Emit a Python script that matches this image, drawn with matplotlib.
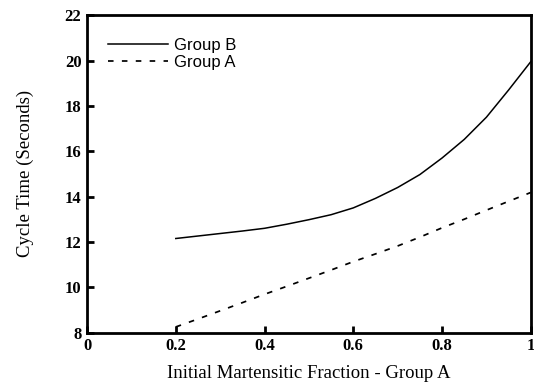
import matplotlib
matplotlib.use('Agg')
import matplotlib.pyplot as plt
import numpy as np
from matplotlib.ticker import FixedLocator, FixedFormatter

# values
frac = [0.2, 0.25, 0.3, 0.35, 0.4, 0.45, 0.5, 0.55, 0.6, 0.65, 0.7,
        0.75, 0.8, 0.85, 0.9, 0.95, 1.0]
group_b = [12.15, 12.26, 12.37, 12.48, 12.6, 12.78, 12.98, 13.2, 13.5, 13.92, 14.4,
           14.97, 15.7, 16.52, 17.5, 18.7, 19.95]
group_a = [8.25, 8.6, 8.96, 9.32, 9.69, 10.04, 10.4, 10.76, 11.13, 11.47, 11.82,
           12.21, 12.62, 13.0, 13.4, 13.79, 14.18]

x_ticks = [0, 0.2, 0.4, 0.6, 0.8, 1.0]
x_labels = ['0', '0.2', '0.4', '0.6', '0.8', '1']
y_ticks = [8, 10, 12, 14, 16, 18, 20, 22]

SERIF = 'Liberation Serif'
SANS = 'Liberation Sans'

fig = plt.figure(figsize=(5.34, 3.89), dpi=100, facecolor='white')
ax = fig.add_axes([0.163, 0.145, 0.831, 0.816])

ax.plot(frac, group_b, color='black', linewidth=1.1, label='Group B')
ax.plot(frac, group_a, color='black', linewidth=1.25, linestyle=(0, (3.2, 4.8)), label='Group A')

ax.set_xlim(0, 1)
ax.set_ylim(8, 22)
ax.xaxis.set_major_locator(FixedLocator(x_ticks))
ax.xaxis.set_major_formatter(FixedFormatter(x_labels))
ax.set_yticks(y_ticks)

for s in ax.spines.values():
    s.set_linewidth(2)
ax.tick_params(direction='in', length=5, width=2, labelsize=12, pad=4)
for lab in ax.get_xticklabels() + ax.get_yticklabels():
    lab.set_fontfamily(SERIF)
    lab.set_fontweight('bold')

ax.set_xlabel('Initial Martensitic Fraction - Group A', fontsize=13.5, family=SERIF, labelpad=8)
ax.set_ylabel('Cycle Time (Seconds)', fontsize=13.5, family=SERIF, labelpad=22)

ax.legend(loc='upper left', frameon=False, prop={'family': SANS, 'size': 12},
          handlelength=3.6, handletextpad=0.4, labelspacing=0.1,
          borderaxespad=0.3, bbox_to_anchor=(0.02, 0.965))

plt.savefig('out.png', dpi=100, facecolor='white')
plt.close()
